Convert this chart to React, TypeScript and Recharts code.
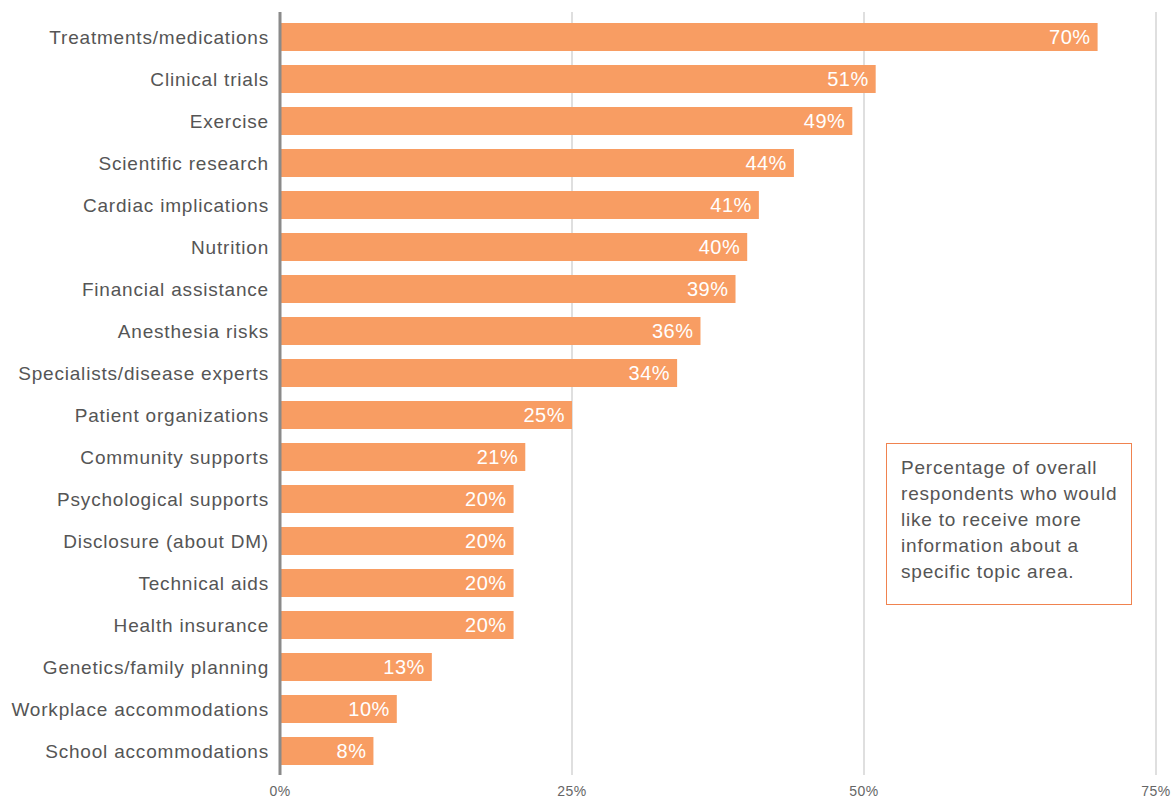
import React from 'react';
import {
  BarChart,
  Bar,
  XAxis,
  YAxis,
  CartesianGrid,
  LabelList
} from 'recharts';

const topics = [
  'Treatments/medications',
  'Clinical trials',
  'Exercise',
  'Scientific research',
  'Cardiac implications',
  'Nutrition',
  'Financial assistance',
  'Anesthesia risks',
  'Specialists/disease experts',
  'Patient organizations',
  'Community supports',
  'Psychological supports',
  'Disclosure (about DM)',
  'Technical aids',
  'Health insurance',
  'Genetics/family planning',
  'Workplace accommodations',
  'School accommodations'
];

const shares = [70, 51, 49, 44, 41, 40, 39, 36, 34, 25, 21, 20, 20, 20, 20, 13, 10, 8];

const axisTicks = [0, 25, 50, 75];

const note = 'Percentage of overall respondents who would like to receive more information about a specific topic area.';

const data = topics.map((topic, i) => ({ topic, value: shares[i] }));

const FONT = '"Liberation Sans", Arial, sans-serif';

export default function App() {
  return (
    <div style={{ position: 'absolute', left: 0, top: 0, width: 1172, height: 801, fontFamily: FONT }}>
      <BarChart
        width={1172}
        height={801}
        data={data}
        layout="vertical"
        margin={{ top: 12, right: 16, left: 0, bottom: 0 }}
      >
        <CartesianGrid horizontal={false} stroke="#bfbfbf" strokeWidth={1} />
        <XAxis
          type="number"
          domain={[0, 75]}
          ticks={axisTicks}
          tickFormatter={(v) => `${v}%`}
          axisLine={false}
          tickLine={false}
          height={26}
          tickMargin={5}
          tick={{ fontSize: 14, fill: '#666', fontFamily: FONT, letterSpacing: 0.5 }}
        />
        <YAxis
          type="category"
          dataKey="topic"
          width={280}
          padding={{ top: 4, bottom: 3 }}
          axisLine={{ stroke: '#8a8a8a', strokeWidth: 3 }}
          tickLine={false}
          tickMargin={5}
          interval={0}
          tick={{ fontSize: 19, fill: '#555', fontFamily: FONT, letterSpacing: 0.8 }}
        />
        <Bar dataKey="value" fill="#F89D63" barSize={28} isAnimationActive={false}>
          <LabelList
            dataKey="value"
            position="insideRight"
            offset={7}
            formatter={(v: number) => `${v}%`}
            style={{ fill: '#fff', fontSize: 20, fontFamily: FONT, letterSpacing: 0.5 }}
          />
        </Bar>
      </BarChart>
      <div
        style={{
          position: 'absolute',
          left: 886,
          top: 443,
          width: 246,
          height: 162,
          boxSizing: 'border-box',
          border: '1.5px solid #F0834F',
          padding: '11px 6px 0 14px',
          fontSize: 19,
          lineHeight: '26px',
          letterSpacing: 0.8,
          color: '#555'
        }}
      >
        {note}
      </div>
    </div>
  );
}
